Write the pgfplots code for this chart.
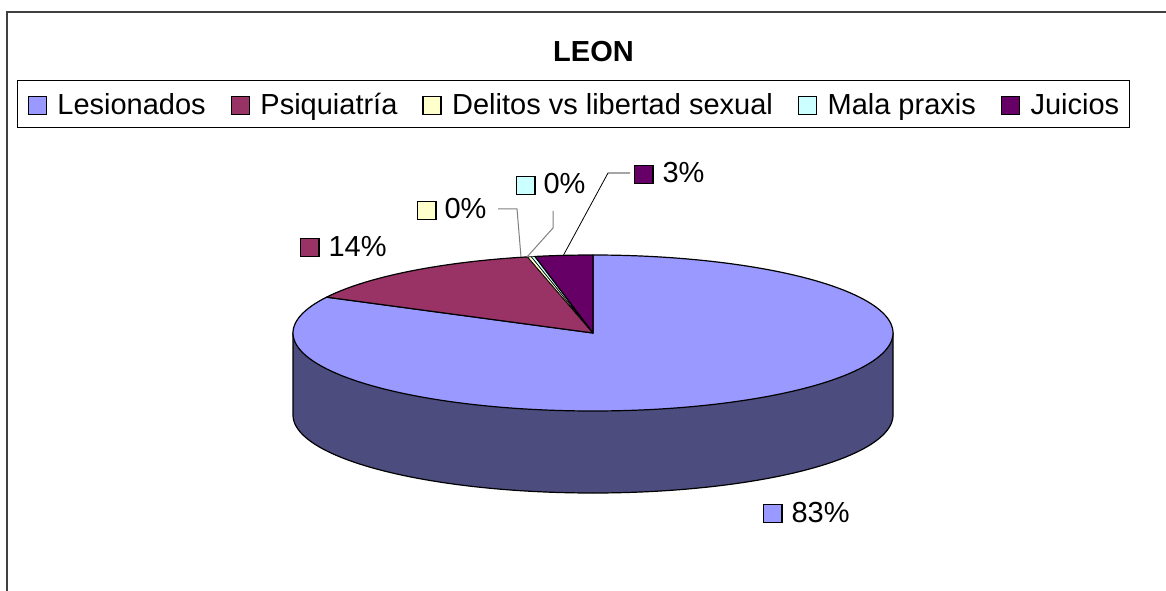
\documentclass[border=0pt]{standalone}
\usepackage{pgfplots}
\pgfplotsset{compat=1.18}
\usepackage{pgfplotstable}
\usepackage{fontspec}
\setmainfont{Liberation Sans}

\definecolor{lesion}{HTML}{9999FF}
\definecolor{lesionside}{HTML}{4C4C7F}
\definecolor{psiq}{HTML}{993366}
\definecolor{delit}{HTML}{FFFFCC}
\definecolor{mala}{HTML}{CCFFFF}
\definecolor{juic}{HTML}{660066}
\definecolor{framegray}{HTML}{404040}

\pgfplotstableread{
name value
Lesionados 82.6
Psiquiatria 13.9
Delitos 0.2
Mala 0.2
Juicios 3.1
}\piedata

\newcommand\key[1]{{\setlength{\fboxsep}{0pt}\setlength{\fboxrule}{1.2pt}\fcolorbox{black}{#1}{\rule{0pt}{17pt}\rule{17pt}{0pt}}}}
\newcommand\bigf{\fontsize{29}{34}\selectfont}

\begin{document}
\begin{tikzpicture}
\path[use as bounding box] (0,0) rectangle (1166pt,590pt);
\fill[white] (0,0) rectangle (1166pt,590pt);
% slice angles from the data (start at 12 o'clock, clockwise)
\pgfplotstablegetelem{0}{value}\of\piedata \let\vA\pgfplotsretval
\pgfplotstablegetelem{1}{value}\of\piedata \let\vB\pgfplotsretval
\pgfplotstablegetelem{2}{value}\of\piedata \let\vC\pgfplotsretval
\pgfplotstablegetelem{3}{value}\of\piedata \let\vD\pgfplotsretval
\pgfplotstablegetelem{4}{value}\of\piedata \let\vE\pgfplotsretval
\pgfmathsetmacro\aA{90}
\pgfmathsetmacro\aB{\aA-3.6*\vA}
\pgfmathsetmacro\aC{\aB-3.6*\vB}
\pgfmathsetmacro\aD{\aC-3.6*\vC}
\pgfmathsetmacro\aE{\aD-3.6*\vD}
\pgfmathsetmacro\aF{\aE-3.6*\vE}
\begin{axis}[
  at={(0,0)}, anchor=south west,
  width=1166pt, height=590pt, scale only axis,
  xmin=0, xmax=1166, ymin=0, ymax=590,
  hide axis, clip=false,
  legend columns=5,
  legend image code/.code={\draw[#1,draw=black,line width=1.2pt] (0pt,0.5pt) rectangle (18pt,18.5pt);},
  legend style={at={(0.4918,0.8229)}, anchor=center, draw=black, line width=1pt,
    font=\bigf, inner xsep=10pt, inner ysep=7pt,
    nodes={inner sep=0pt, anchor=base west, text depth=6pt, text height=27pt},
    /tikz/every odd column/.append style={column sep=10.5pt},
    /tikz/every even column/.append style={column sep=25pt}},
  legend cell align=left,
]
% side of the pie
\addplot[fill=lesionside, draw=black, line width=1.2pt, line join=round, domain=180:360, samples=121, forget plot]
  ({593+300*cos(x)},{175+78*sin(x)}) -- (axis cs:893,257) -- (axis cs:293,257) -- cycle;
% top slices
\addplot[fill=lesion, draw=black, line width=1.2pt, line join=round, domain=\aB:\aA, samples=240, forget plot]
  ({593+300*cos(x)},{257+78*sin(x)}) -- (axis cs:593,257) -- cycle;
\addplot[fill=psiq, draw=black, line width=1.2pt, line join=round, domain=\aC:\aB, samples=60, forget plot]
  ({593+300*cos(x)},{257+78*sin(x)}) -- (axis cs:593,257) -- cycle;
\addplot[fill=delit, draw=black, line width=0.6pt, line join=round, domain=\aD:\aC, samples=3, forget plot]
  ({593+300*cos(x)},{257+78*sin(x)}) -- (axis cs:593,257) -- cycle;
\addplot[fill=mala, draw=black, line width=0.6pt, line join=round, domain=\aE:\aD, samples=3, forget plot]
  ({593+300*cos(x)},{257+78*sin(x)}) -- (axis cs:593,257) -- cycle;
\addplot[fill=juic, draw=black, line width=1.2pt, line join=round, domain=\aF:\aE, samples=20, forget plot]
  ({593+300*cos(x)},{257+78*sin(x)}) -- (axis cs:593,257) -- cycle;
% leader lines
\addplot[gray, line width=1pt, forget plot] coordinates {(498,381) (517,381) (521,333)};
\addplot[gray, line width=1pt, forget plot] coordinates {(553,379) (553,362) (527,333)};
\addplot[black, line width=0.8pt, forget plot] coordinates {(630,417) (608,417) (563,334)};
% legend
\addlegendimage{fill=lesion}\addlegendentry{Lesionados}
\addlegendimage{fill=psiq}\addlegendentry{Psiquiatría}
\addlegendimage{fill=delit}\addlegendentry{Delitos vs libertad sexual}
\addlegendimage{fill=mala}\addlegendentry{Mala praxis}
\addlegendimage{fill=juic}\addlegendentry{Juicios}
% title and data labels
\node[anchor=base, font=\bigf\bfseries, inner sep=0pt] at (axis cs:593.5,528) {LEON};
\node[anchor=base west, font=\bigf, inner sep=0pt] at (axis cs:300,334) {\key{psiq}\hspace{9pt}14\%};
\node[anchor=base west, font=\bigf, inner sep=0pt] at (axis cs:417,371) {\key{delit}\hspace{8pt}0\%};
\node[anchor=base west, font=\bigf, inner sep=0pt] at (axis cs:516,396) {\key{mala}\hspace{8pt}0\%};
\node[anchor=base west, font=\bigf, inner sep=0pt] at (axis cs:634,407) {\key{juic}\hspace{9pt}3\%};
\node[anchor=base west, font=\bigf, inner sep=0pt] at (axis cs:763,68) {\key{lesion}\hspace{9pt}83\%};
\end{axis}
% chart area frame (cut at right and bottom)
\draw[framegray, line width=1.5pt] (7pt,-5pt) -- (7pt,578pt) -- (1175pt,578pt);
\end{tikzpicture}
\end{document}
